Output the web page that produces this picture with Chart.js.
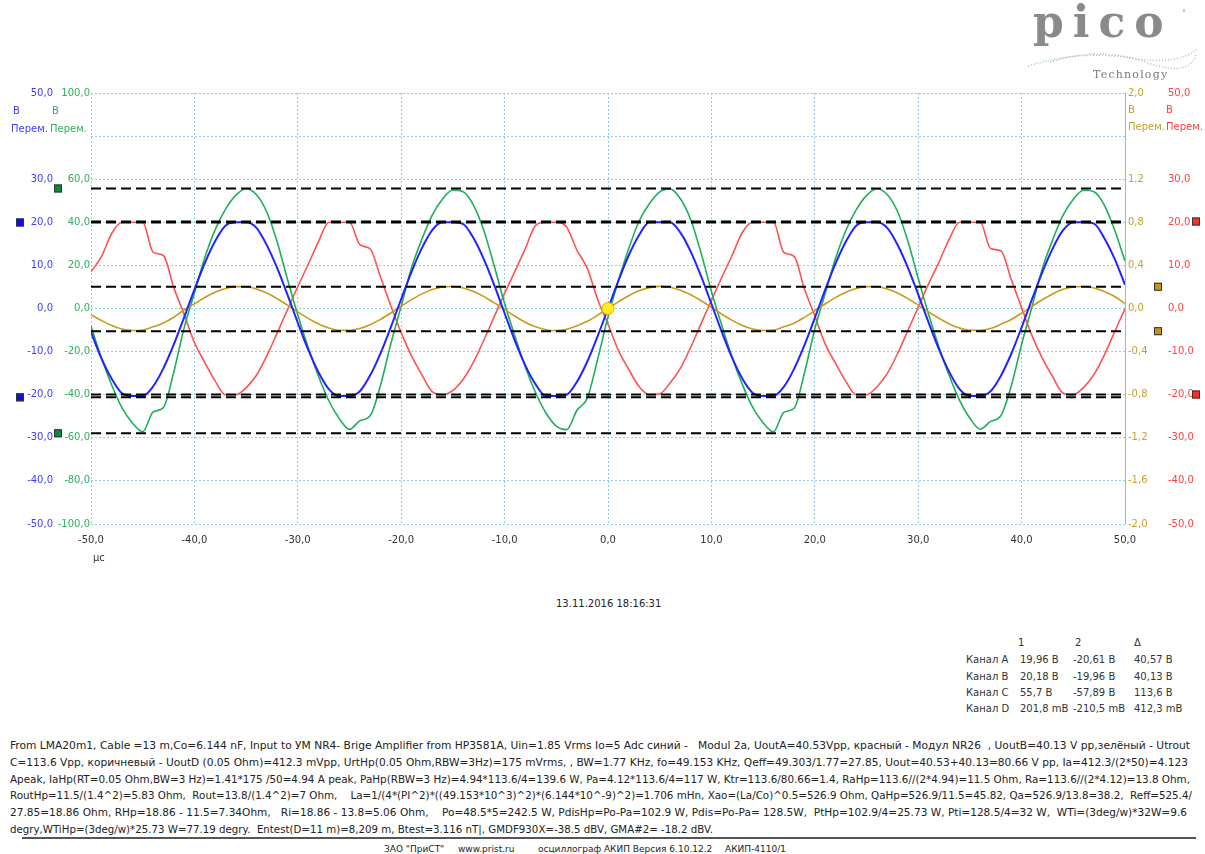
<!DOCTYPE html>
<html>
<head>
<meta charset="utf-8">
<script src="https://cdn.jsdelivr.net/npm/chart.js@4.4.1/dist/chart.umd.min.js"></script>
<style>
body { margin: 0; background: #fff; width: 1205px; height: 854px; overflow: hidden; position: relative; font-family: "DejaVu Sans", sans-serif; }
#wrap { position: absolute; left: 0; top: 0; width: 1205px; height: 570px; }
.t { position: absolute; white-space: pre; font-size: 10px; line-height: 12px; }
.pl { position: absolute; left: 10px; white-space: pre; font-size: 10px; line-height: 12px; color: #222; transform-origin: 0 50%; }
.tb { position: absolute; white-space: pre; font-size: 10px; line-height: 12px; color: #333; }
#logo { position: absolute; left: 1033px; top: 0px; font-family: "DejaVu Serif", serif; font-weight: bold; font-size: 44px; line-height: 44px; letter-spacing: 9px; color: #8a8a8a; }
#tech { position: absolute; left: 1093px; top: 68px; font-family: "DejaVu Serif", serif; font-size: 11px; letter-spacing: 1.2px; color: #7a7a7a; }
#rule { position: absolute; left: 22px; top: 837px; width: 1174px; height: 2px; background: #555; }
</style>
</head>
<body>
<div id="wrap"><canvas id="c" width="1205" height="570"></canvas></div>

<div id="logo">pico</div>
<div class="t" style="left:1182px;top:8px;font-size:8px;color:#999">°</div>
<svg style="position:absolute;left:1020px;top:42px" width="185" height="30">
  <path d="M8 24 Q60 8 110 16 T178 6" fill="none" stroke="#9cc6d8" stroke-width="1.5" stroke-dasharray="1 2"/>
  <path d="M30 20 Q80 4 125 20 T176 12" fill="none" stroke="#b5b5c8" stroke-width="1.5" stroke-dasharray="1 2"/>
</svg>
<div id="tech">Technology</div>

<!-- axis unit labels -->
<div class="t" style="left:13px;top:105px;color:#3c3cff">В</div>
<div class="t" style="left:11px;top:123px;color:#3c3cff">Перем.</div>
<div class="t" style="left:52px;top:105px;color:#2fae5e">В</div>
<div class="t" style="left:50px;top:123px;color:#2fae5e">Перем.</div>
<div class="t" style="left:1128px;top:104px;color:#c8a02a">В</div>
<div class="t" style="left:1128px;top:121px;color:#c8a02a">Перем.</div>
<div class="t" style="left:1166px;top:104px;color:#ff4040">В</div>
<div class="t" style="left:1166px;top:121px;color:#ff4040">Перем.</div>

<div class="t" style="left:93px;top:552px;color:#333">µс</div>
<div class="t" style="left:556px;top:598px;color:#222">13.11.2016 18:16:31</div>

<!-- cursor table -->
<div class="tb" style="left:1018px;top:637px">1</div>
<div class="tb" style="left:1075px;top:637px">2</div>
<div class="tb" style="left:1134px;top:637px">Δ</div>
<div class="tb" style="left:966px;top:654px">Канал A</div>
<div class="tb" style="left:1020px;top:654px">19,96 В</div>
<div class="tb" style="left:1073px;top:654px">-20,61 В</div>
<div class="tb" style="left:1134px;top:654px">40,57 В</div>
<div class="tb" style="left:966px;top:671px">Канал B</div>
<div class="tb" style="left:1020px;top:671px">20,18 В</div>
<div class="tb" style="left:1073px;top:671px">-19,96 В</div>
<div class="tb" style="left:1134px;top:671px">40,13 В</div>
<div class="tb" style="left:966px;top:687px">Канал C</div>
<div class="tb" style="left:1020px;top:687px">55,7 В</div>
<div class="tb" style="left:1073px;top:687px">-57,89 В</div>
<div class="tb" style="left:1134px;top:687px">113,6 В</div>
<div class="tb" style="left:966px;top:703px">Канал D</div>
<div class="tb" style="left:1020px;top:703px">201,8 mВ</div>
<div class="tb" style="left:1073px;top:703px">-210,5 mВ</div>
<div class="tb" style="left:1134px;top:703px">412,3 mВ</div>

<!-- notes -->
<div class="pl" data-w="1180" style="top:740px">From LMA20m1, Cable =13 m,Co=6.144 nF, Input to УМ NR4- Brige Amplifier from HP3581A, Uin=1.85 Vrms Io=5 Adc синий -   Modul 2a, UoutA=40.53Vpp, красный - Модул NR26  , UoutB=40.13 V pp,зелёный - Utrout</div>
<div class="pl" data-w="1178" style="top:757px">C=113.6 Vpp, коричневый - UoutD (0.05 Ohm)=412.3 mVpp, UrtHp(0.05 Ohm,RBW=3Hz)=175 mVrms, , BW=1.77 KHz, fo=49.153 KHz, Qeff=49.303/1.77=27.85, Uout=40.53+40.13=80.66 V pp, Ia=412.3/(2*50)=4.123</div>
<div class="pl" data-w="1180" style="top:774px">Apeak, IaHp(RT=0.05 Ohm,BW=3 Hz)=1.41*175 /50=4.94 A peak, PaHp(RBW=3 Hz)=4.94*113.6/4=139.6 W, Pa=4.12*113.6/4=117 W, Ktr=113.6/80.66=1.4, RaHp=113.6//(2*4.94)=11.5 Ohm, Ra=113.6//(2*4.12)=13.8 Ohm,</div>
<div class="pl" data-w="1182" style="top:790px">RoutHp=11.5/(1.4^2)=5.83 Ohm,  Rout=13.8/(1.4^2)=7 Ohm,    La=1/(4*(PI^2)*((49.153*10^3)^2)*(6.144*10^-9)^2)=1.706 mHn, Xao=(La/Co)^0.5=526.9 Ohm, QaHp=526.9/11.5=45.82, Qa=526.9/13.8=38.2,  Reff=525.4/</div>
<div class="pl" data-w="1177" style="top:807px">27.85=18.86 Ohm, RHp=18.86 - 11.5=7.34Ohm,   Ri=18.86 - 13.8=5.06 Ohm,    Po=48.5*5=242.5 W, PdisHp=Po-Pa=102.9 W, Pdis=Po-Pa= 128.5W,  PtHp=102.9/4=25.73 W, Pti=128.5/4=32 W,  WTi=(3deg/w)*32W=9.6</div>
<div class="pl" data-w="703" style="top:824px">degry,WTiHp=(3deg/w)*25.73 W=77.19 degry.  Entest(D=11 m)=8,209 m, Btest=3.116 nT|, GMDF930X=-38.5 dBV, GMA#2= -18.2 dBV.</div>
<div id="rule"></div>
<div class="t" style="left:384px;top:843px;font-size:9px;color:#222">ЗАО "ПриСТ"</div>
<div class="t" style="left:458px;top:843px;font-size:9px;color:#222">www.prist.ru</div>
<div class="t" style="left:538px;top:843px;font-size:9px;color:#222">осциллограф АКИП Версия 6.10.12.2</div>
<div class="t" style="left:725px;top:843px;font-size:9px;color:#222">АКИП-4110/1</div>

<script>
// time base, µs
var timeUs = [-50,-49,-48,-47,-46,-45,-44,-43,-42,-41,-40,-39,-38,-37,-36,-35,-34,-33,-32,-31,
  -30,-29,-28,-27,-26,-25,-24,-23,-22,-21,-20,-19,-18,-17,-16,-15,-14,-13,-12,-11,
  -10,-9,-8,-7,-6,-5,-4,-3,-2,-1,0,1,2,3,4,5,6,7,8,9,
  10,11,12,13,14,15,16,17,18,19,20,21,22,23,24,25,26,27,28,29,
  30,31,32,33,34,35,36,37,38,39,40,41,42,43,44,45,46,47,48,49,50];

// Канал A (синий), В
var chanA = [-5.5,-11.5,-16.3,-19.7,-20.3,-20.3,-18.1,-13.9,-8.4,-2.1,4.4,10.5,15.6,19.2,20,20,18.7,14.7,9.4,3.2,
  -3.3,-9.5,-14.8,-18.7,-20.3,-20.3,-19.2,-15.5,-10.4,-4.3,2.2,8.5,14.0,18.2,20,20,19.6,16.3,11.4,5.4,
  -1.1,-7.5,-13.2,-17.6,-20.3,-20.3,-20.0,-17.0,-12.3,-6.4,0,6.4,12.3,17.0,20,20,20,17.6,13.2,7.5,
  1.1,-5.4,-11.4,-16.3,-19.6,-20.3,-20.3,-18.2,-14.0,-8.5,-2.2,4.3,10.4,15.5,19.2,20,20,18.7,14.8,9.5,
  3.3,-3.2,-9.4,-14.7,-18.7,-20.3,-20.3,-19.2,-15.6,-10.5,-4.4,2.1,8.4,13.9,18.1,20,20,19.7,16.3,11.5,5.5];

// Канал B (красный), В
var chanB = [8.5,12.0,17.4,20,20,20,13.1,12.3,4.9,-1.3,-7.9,-12.5,-16.8,-20,-20,-18.4,-15.5,-11.0,-5.7,-0.3,
  5.1,10.2,15.5,20,20,20,14.8,13.8,7.3,0.6,-5.6,-11.0,-15.4,-19.3,-20,-19.0,-16.4,-12.4,-7.3,-1.9,
  3.5,8.6,13.9,19.3,20,20,18.9,13.5,9.3,2.1,-3.6,-9.7,-14.1,-18.1,-20,-19.8,-17.3,-13.9,-9.0,-3.5,
  1.9,7.2,12.3,17.7,20,20,20,13.0,12.1,4.5,-1.7,-8.2,-12.7,-16.9,-20,-20,-18.2,-15.1,-10.5,-5.1,
  0.3,5.7,10.7,16.1,20,20,20,13.9,13.4,6.7,0.2,-6.3,-11.5,-15.8,-19.6,-20,-18.3,-15.3,-10.8,-5.4,0];

// Канал C (зелёный), В
var chanC = [-8.1,-22.8,-35.5,-46.1,-53.1,-57.2,-48.1,-46.0,-29.6,-9.1,7.1,23.5,36.5,46.0,52.5,55.6,52.8,44.8,31.0,13.6,
  -3.0,-18.0,-31.4,-42.8,-51.0,-56.1,-52.1,-49.8,-35.6,-16.3,1.1,18.9,32.1,43.3,50.8,55.0,54.2,47.9,36.1,19.7,
  2.3,-12.9,-27.0,-39.1,-48.5,-54.6,-56.2,-47.2,-41.6,-23.5,-3.9,12.8,27.7,40.5,48.6,54.1,55.5,50.9,41.2,25.8,
  8.0,-7.8,-22.6,-35.3,-45.9,-53.0,-57.2,-48.2,-46.3,-29.9,-9.5,6.8,23.2,36.2,45.8,52.4,55.6,52.9,45.0,31.3,
  14.0,-2.7,-17.7,-31.1,-42.6,-50.9,-56.0,-52.4,-49.7,-36.0,-16.7,0.7,18.5,31.8,43.2,50.7,54.9,54.2,48.0,36.4,22.0];

// Канал D (коричневый), В
var chanD = [-0.06,-0.111,-0.158,-0.190,-0.204,-0.199,-0.170,-0.135,-0.081,-0.014,0.043,0.102,0.151,0.186,0.203,0.202,0.181,0.143,0.091,0.031,
  -0.032,-0.092,-0.144,-0.181,-0.202,-0.203,-0.185,-0.150,-0.101,-0.042,0.021,0.082,0.136,0.176,0.200,0.204,0.190,0.157,0.110,0.052,
  -0.006,-0.072,-0.127,-0.170,-0.197,-0.205,-0.194,-0.160,-0.119,-0.062,0,0.062,0.119,0.164,0.194,0.205,0.197,0.170,0.127,0.072,
  0.011,-0.052,-0.110,-0.157,-0.190,-0.204,-0.200,-0.170,-0.136,-0.082,-0.021,0.042,0.101,0.150,0.185,0.203,0.202,0.181,0.144,0.092,
  0.032,-0.031,-0.091,-0.143,-0.181,-0.202,-0.203,-0.186,-0.146,-0.102,-0.043,0.020,0.081,0.135,0.178,0.199,0.204,0.190,0.158,0.111,0.045];

// cursors 1 and 2
var cursorA = [19.96, -20.61];
var cursorB = [20.18, -19.96];
var cursorC = [55.7, -57.89];
var cursorD = [0.2018, -0.2105];

// trigger point
var trigT = [0];
var trigV = [0];

// tick labels
var timeLabels = ['-50,0','-40,0','-30,0','-20,0','-10,0','0,0','10,0','20,0','30,0','40,0','50,0'];
var abLabels = ['-50,0','-40,0','-30,0','-20,0','-10,0','0,0','10,0','20,0','30,0','','50,0'];
var cLabels = ['-100,0','-80,0','-60,0','-40,0','-20,0','0,0','20,0','40,0','60,0','','100,0'];
var dLabels = ['-2,0','-1,6','-1,2','-0,8','-0,4','0,0','0,4','0,8','1,2','','2,0'];

var BLUE = '#2323ff', RED = '#ff5252', GREEN = '#1fae5a', GOLD = '#c99a1c';
var GRID = '#8fcfdc';

function trace(vals, axis, color, width) {
    return {
        data: timeUs.map(function (t, i) { return {x: t, y: vals[i]}; }),
        yAxisID: axis,
        borderColor: color,
        borderWidth: width,
        pointRadius: 0,
        cubicInterpolationMode: 'monotone',
        fill: false
    };
}

function cursors(vals, axis) {
    return vals.map(function (v) {
        return {
            data: [{x: timeUs[0], y: v}, {x: timeUs[timeUs.length - 1], y: v}],
            yAxisID: axis,
            borderColor: '#000',
            borderWidth: 2,
            borderDash: [10, 5],
            pointRadius: 0,
            fill: false
        };
    });
}

var datasets = [{
    data: trigT.map(function (t, i) { return {x: t, y: trigV[i]}; }),
    yAxisID: 'yD',
    showLine: false,
    pointRadius: 6,
    pointBackgroundColor: '#ffee1a',
    pointBorderColor: '#e8a800',
    pointBorderWidth: 1
}].concat(
    cursors(cursorA, 'yA'), cursors(cursorB, 'yB'), cursors(cursorC, 'yC'), cursors(cursorD, 'yD'),
    [trace(chanA, 'yA', BLUE, 2), trace(chanD, 'yD', GOLD, 1.6), trace(chanC, 'yC', GREEN, 1.6), trace(chanB, 'yB', RED, 1.6)]
);

function yAxis(pos, weight, min, max, step, labels, color, width, pad, showGrid) {
    return {
        type: 'linear', position: pos, weight: weight, min: min, max: max,
        ticks: {
            stepSize: step, color: color, padding: pad, autoSkip: false,
            font: {family: 'DejaVu Sans', size: 10},
            callback: function (v, i) { return labels[i]; }
        },
        grid: {display: showGrid, color: GRID, drawTicks: false, lineWidth: 1},
        border: {display: false, dash: [2, 2]},
        afterFit: function (s) { s.width = width; }
    };
}

// small squares on the axes for the cursors
var cursorMarks = {
    id: 'cursorMarks',
    afterDraw: function (chart) {
        var ctx = chart.ctx;
        function put(id, vals, x, fill) {
            var s = chart.scales[id];
            vals.forEach(function (v) {
                var y = s.getPixelForValue(v);
                ctx.fillStyle = fill;
                ctx.fillRect(x - 4, y - 4, 8, 8);
                ctx.strokeStyle = '#333';
                ctx.lineWidth = 1;
                ctx.strokeRect(x - 3.5, y - 3.5, 7, 7);
            });
        }
        put('yA', cursorA, 20, '#1010e6');
        put('yC', cursorC, 58, '#0b8a3e');
        put('yD', cursorD, 1158, '#c8901c');
        put('yB', cursorB, 1196, '#ff2a2a');
        // right frame line
        var a = chart.chartArea;
        ctx.strokeStyle = '#7cc6de';
        ctx.lineWidth = 1;
        ctx.beginPath();
        ctx.moveTo(a.right + 0.5, a.top);
        ctx.lineTo(a.right + 0.5, a.bottom);
        ctx.stroke();
    }
};

new Chart(document.getElementById('c'), {
    type: 'line',
    data: {datasets: datasets},
    options: {
        responsive: false,
        animation: false,
        devicePixelRatio: 1,
        layout: {padding: {top: 93, left: 0, right: 0, bottom: 0}},
        plugins: {legend: {display: false}, tooltip: {enabled: false}},
        scales: {
            x: {
                type: 'linear', min: -50, max: 50,
                ticks: {
                    stepSize: 10, color: '#333', padding: 10, maxRotation: 0, autoSkip: false,
                    font: {family: 'DejaVu Sans', size: 10},
                    callback: function (v, i) { return timeLabels[i]; }
                },
                grid: {color: GRID, drawTicks: false, lineWidth: 1},
                border: {display: false, dash: [2, 2]},
                afterFit: function (s) { s.height = 46; }
            },
            yA: yAxis('left', 2, -50, 50, 10, abLabels, '#3c3cff', 55, 2, true),
            yC: yAxis('left', 1, -100, 100, 20, cLabels, '#2fae5e', 36, 1, false),
            yD: yAxis('right', 1, -2, 2, 0.4, dLabels, '#c8a02a', 40, 3, false),
            yB: yAxis('right', 2, -50, 50, 10, abLabels, '#ff4040', 40, 3, false)
        }
    },
    plugins: [cursorMarks]
});

// fit each note line to its width in the original
document.querySelectorAll('.pl').forEach(function (el) {
    var w = el.getBoundingClientRect().width;
    el.style.transform = 'scaleX(' + (Number(el.dataset.w) / w) + ')';
});
</script>
</body>
</html>
